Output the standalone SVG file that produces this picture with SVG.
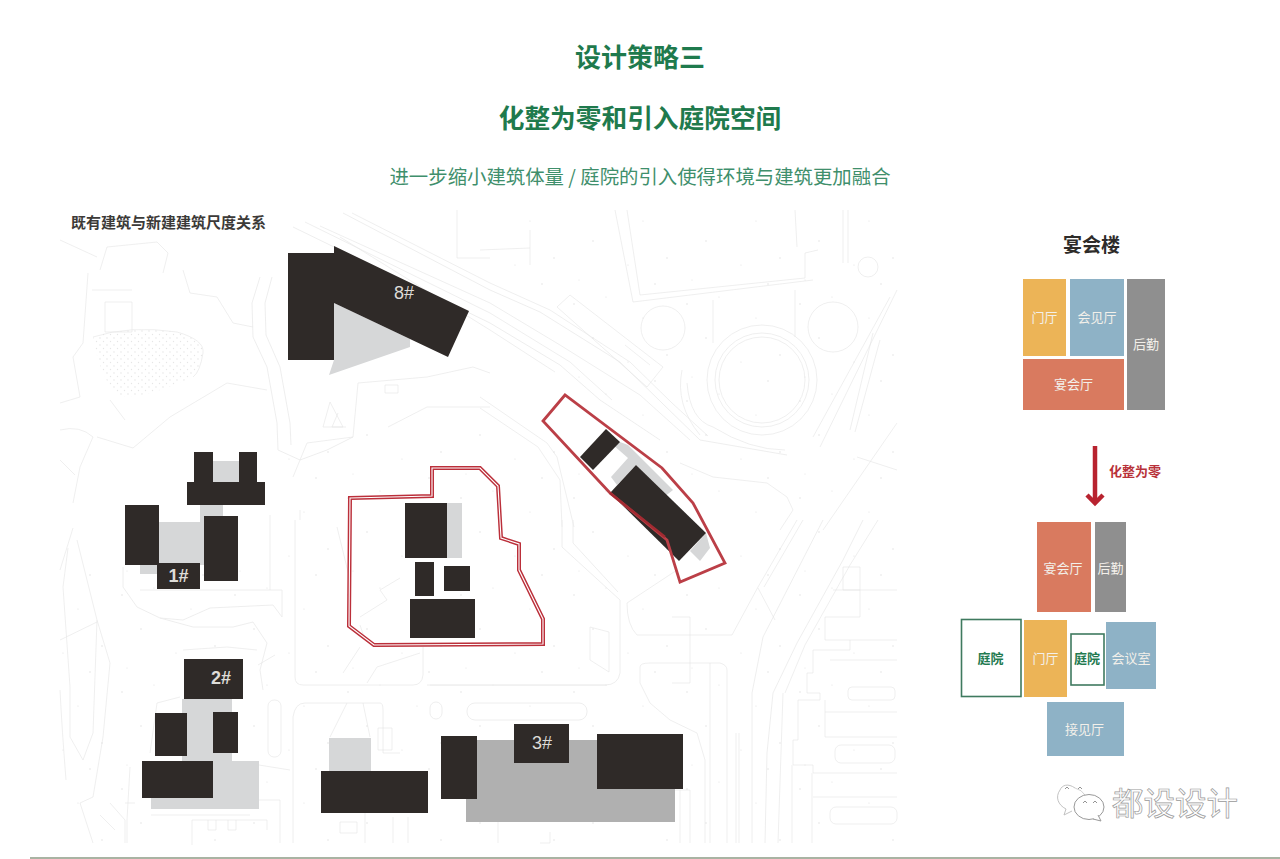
<svg xmlns="http://www.w3.org/2000/svg" width="1280" height="859" viewBox="0 0 1280 859">
<style>
.cjk{font-family:"Noto Sans CJK SC","Noto Sans",sans-serif}
.g{fill:#1f7a4d;font-weight:700;text-anchor:middle}
.d{fill:#2f2a28}
.l{fill:#d6d7d8}
.m{fill:#b0b0b0}
.bg{fill:none;stroke:#e4e4e4;stroke-width:.6}
.bg2{fill:none;stroke:#ececec;stroke-width:.9}
.num{font-family:"Liberation Sans",Arial,sans-serif;fill:#dedcd8;text-anchor:middle}
.red1{fill:none;stroke:#bb2f3a;stroke-width:4}
.red2{fill:none;stroke:#fff;stroke-width:1.1}
.w{fill:#f3f0ea;font-size:13px;text-anchor:middle}
.c{fill:#fff;stroke:#3f7a5f;stroke-width:1.6}
.cl{fill:#237a50;font-size:13px;font-weight:700;text-anchor:middle}
</style>
<defs>
<pattern id="dots" width="113" height="97" patternUnits="userSpaceOnUse">
<circle cx="9" cy="13" r=".7" fill="#dcdcdc"/><circle cx="41" cy="6" r=".6" fill="#e0e0e0"/><circle cx="28" cy="47" r=".7" fill="#dcdcdc"/><circle cx="78" cy="27" r=".6" fill="#e0e0e0"/><circle cx="102" cy="64" r=".7" fill="#dedede"/><circle cx="63" cy="71" r=".6" fill="#e0e0e0"/><circle cx="14" cy="86" r=".6" fill="#e2e2e2"/><circle cx="90" cy="90" r=".7" fill="#dedede"/>
</pattern>
<pattern id="fine" width="7" height="7" patternUnits="userSpaceOnUse"><circle cx="2" cy="2" r=".7" fill="#e2e2e2"/><circle cx="5.500" cy="5.500" r=".7" fill="#e6e6e6"/></pattern>
</defs>
<rect width="1280" height="859" fill="#fff"/>
<g id="titles" class="cjk">
<text class="g" x="640" y="67" font-size="26">设计策略三</text>
<text class="g" x="640" y="128" font-size="25.700">化整为零和引入庭院空间</text>
<text x="640" y="184" font-size="19.400" fill="#3f8f6c" text-anchor="middle">进一步缩小建筑体量 / 庭院的引入使得环境与建筑更加融合</text>
<text x="71" y="228" font-size="15" font-weight="700" fill="#3c3a38">既有建筑与新建建筑尺度关系</text>
</g>
<g id="site-linework">
<path fill="url(#dots)" d="M280 420H897V845H60V560H280Z"/>
<path fill="url(#dots)" d="M470 215H897V420H600Z"/>
<path fill="url(#fine)" d="M93 337Q130 325 177 332Q205 340 203 353Q200 372 193 377Q175 385 160 390Q135 398 120 397Q100 380 93 337Z"/>
<path class="bg" d="M93 337Q130 325 177 332Q205 340 203 353Q200 372 193 377"/>
<!-- north west -->
<path class="bg2" d="M260 277L252 303L253 337L267 367L277 423L278 450L300 460L327 450L353 437M272 277L265 303L266 335L280 367L290 423L291 445"/>
<path class="bg" d="M100 270L107 247L157 242L168 253L163 273M92 290H132M105 302H132V332H105ZM183 270L190 293L217 297L233 323L253 327M88 273L83 343L73 357L80 397L60 403M93 437L80 467L73 503M97 437L133 448L170 417L227 383L267 390M60 240L97 257M60 430Q80 425 93 437M60 460L75 475M110 400L125 420"/>
<path class="bg" d="M330 402L323 427H343ZM338 413L332 427H346M293 477L307 443L353 437M358 383L427 377L473 367L490 373M358 383L353 437M388 427L427 407H490M457 210V258H490M385 393H398V385H385Z"/>
<!-- rails and roads -->
<path class="bg2" d="M343 213L490 290L540 312L620 362L662 403L700 440L787 455M293 227L490 323L560 365L600 400L660 440"/>
<path class="bg" d="M352 213L490 283L550 310L630 362L672 403L708 436M305 222L490 313L570 362L612 400M320 226L490 303L560 345L640 395L690 440M340 237L490 330L555 372M480 397L547 443L557 457L574 527M480 408L538 447L560 480L562 527"/>
<path class="bg" d="M557 307L570 295L663 367L647 387ZM625 345L650 365M480 250L530 248M530 230V265"/>
<path class="bg" d="M615 210L633 302L813 280M627 210L640 295L805 278V253L818 250M795 210L797 247M843 210V263M848 210V263M795 290V337M713 300V343"/>
<circle class="bg" cx="663" cy="328" r="22"/><circle class="bg" cx="833" cy="327" r="25"/><circle class="bg" cx="868" cy="267" r="10"/>
<circle class="bg" cx="762" cy="380" r="43"/><circle class="bg" cx="762" cy="380" r="47"/><circle class="bg" cx="762" cy="380" r="55"/>
<path class="bg" d="M687 383Q690 420 713 427Q750 450 785 450M682 370Q675 405 700 435M897 290L820 447M890 297L813 437M873 333L850 430M880 340L855 432M897 423L823 530M857 457L897 470M680 463L713 477L767 483L787 497L793 510L780 530"/>
<!-- east -->
<path class="bg2" d="M823 520L763 637L752 693V843M863 520L843 560L797 643L773 693L767 753L765 843"/>
<path class="bg" d="M797 520L758 587L732 635H637Q627 625 627 603L677 570M803 520L764 587M758 588L775 620M783 693L778 843M878 520L850 565L805 645L785 693"/>
<path class="bg" d="M843 567H860V590H843ZM833 590H860V617H825V640H860M813 650H850V640M813 650V673H807V693H820V700H798V740H793V765H813V773H897M825 737H897M825 712H897M825 700V737M792 765V843M812 773V843M813 797H897M860 590H897M860 640H897M830 660H897"/>
<rect class="bg" x="848" y="687" width="47" height="13" rx="4"/><rect class="bg" x="835" y="745" width="60" height="18" rx="6"/><rect class="bg" x="830" y="807" width="67" height="17" rx="6"/>
<path class="bg2" d="M562 520V547L620 600V673Q618 685 605 685H430M573 520V543L618 592"/>
<path class="bg" d="M590 627L609 632V672L590 660ZM672 617H690V683H672M640 667Q640 663 650 663H720Q727 665 727 670V843M640 667V683L650 703L670 720L697 733L705 760V843M710 663V843M736 733V843M739 733V843"/>
<rect class="bg2" x="467" y="703" width="120" height="17" rx="8"/><rect class="bg2" x="430" y="702" width="12" height="17" rx="6"/>
<path class="bg" d="M680 790V843M690 790V843M675 790H690M498 810V843M550 832V843H540M470 810H550"/>
<!-- west / south -->
<path class="bg" d="M77 540L97 620L110 663L103 737L93 797L80 803L93 843M68 548L63 587L70 687L70 737L83 760L93 733L97 620M73 528L60 570M60 640L97 622M60 690Q62 730 66 780M110 803L125 820V843M135 803H125M150 753L157 703L180 697M130 767L127 820V843M100 815L115 830"/>
<path class="bg2" d="M123 567V587L137 607L160 618L183 620L210 608L273 605L282 617V590H140M160 618L193 627L233 627L253 622L267 643L260 670L263 690"/>
<path class="bg" d="M183 650L227 647L257 650M275 655L258 665"/>
<rect class="bg" x="268" y="700" width="13" height="57" rx="6"/>
<path class="bg" d="M192 845V820H267V830M208 820V830H216V820M228 820V830H236V820M250 800H280V843M259 765L290 770M151 815H250"/>
<path class="bg2" d="M295 520V677Q295 685 303 685H413Q422 685 423 675V647M427 685H607M293 843V717Q295 703 305 703H380Q383 703 383 710V753"/>
<path class="bg" d="M347 703L330 737M363 703L370 737M393 817V843M408 817V843M340 822H357V833H340ZM365 813V843M378 728H392V750H378ZM383 753H400"/>
<path class="bg" d="M360 617L387 600L380 590L400 578M343 673L360 647M367 683L377 667L420 653M337 527L350 580M360 625L365 640M300 510V520M270 515V590"/>
</g>
<g id="building-8">
<path class="l" d="M334 303L410 339V347L329 375L334 360Z"/>
<path class="d" d="M288 253H334L334 246L469 311L448 357L334 303V360H288Z"/>
<text class="num" x="404" y="299" font-size="18">8#</text>
</g>
<g id="building-1">
<rect class="l" x="213" y="461" width="26" height="21"/>
<rect class="l" x="200" y="505" width="23" height="17"/>
<rect class="l" x="159" y="522" width="45" height="43"/>
<rect class="l" x="140" y="565" width="17" height="9"/>
<path class="d" d="M194 452H213V482H239V452H257V482H265V505H187V482H194Z"/>
<rect class="d" x="125" y="505" width="34" height="60"/>
<rect class="d" x="204" y="516" width="34" height="65"/>
<rect class="d" x="157" y="563" width="43" height="26"/>
<text class="num" x="178.500" y="582" font-size="18" font-weight="700">1#</text>
</g>
<g id="building-2">
<rect class="l" x="182" y="699" width="50" height="64"/>
<path class="l" d="M213 761H259V809H151V798H213Z"/>
<rect class="d" x="184" y="659" width="59" height="40"/>
<rect class="d" x="155" y="713" width="32" height="43"/>
<rect class="d" x="213" y="712" width="25" height="41"/>
<rect class="d" x="142" y="761" width="71" height="37"/>
<text class="num" x="221" y="684" font-size="18" font-weight="700">2#</text>
</g>
<g id="building-3">
<path class="m" d="M477 740H597V789H675V822H466V799H477Z"/>
<rect class="l" x="329" y="738" width="42" height="33"/>
<rect class="d" x="321" y="771" width="107" height="42"/>
<rect class="d" x="441" y="736" width="36" height="63"/>
<rect class="d" x="514" y="724" width="55" height="39"/>
<rect class="d" x="597" y="734" width="86" height="55"/>
<text class="num" x="542" y="749" font-size="18">3#</text>
</g>
<g id="site-center">
<rect class="l" x="447" y="503" width="15" height="55"/>
<rect class="d" x="405" y="503" width="42" height="55"/>
<rect class="d" x="415" y="562" width="19" height="34"/>
<rect class="d" x="444" y="566" width="26" height="25"/>
<rect class="d" x="410" y="599" width="65" height="39"/>
<path class="red1" d="M350 498L432 496V468H480L498 486L501 538L519 544V570L543 619V644L374 645L349 626Z"/>
<path class="red2" d="M350 498L432 496V468H480L498 486L501 538L519 544V570L543 619V644L374 645L349 626Z"/>
</g>
<g id="site-east">
<path fill="#fff" d="M565 395L543 421L610 493L667 540L680 582L725 563L693 503L662 468Z"/>
<path class="l" d="M620 442L628 445L673 490L664 497L636 465L617 485L611 477L628 458L612 444Z"/>
<path class="l" d="M706 533L710 548L700 561L690 551Z"/>
<path class="d" d="M606 429L620 442L593 470L580 457Z"/>
<path class="d" d="M636 465L706 533L679 561L610 493Z"/>
<path fill="none" stroke="#bb3f47" stroke-width="2.800" d="M565 395L543 421L610 493L667 540L680 582L725 563L693 503L662 468Z"/>
<path fill="none" stroke="#a32a31" stroke-width="2.400" d="M610 493L665 537"/>
</g>
<g id="legend-top" class="cjk">
<text x="1091.500" y="252" font-size="19" font-weight="700" fill="#2e2c2a" text-anchor="middle">宴会楼</text>
<g id="n-door"><rect x="1023" y="279" width="43" height="77" fill="#ecb457"/><text class="w" x="1044.500" y="322">门厅</text></g>
<g id="n-meet"><rect x="1070" y="279" width="54" height="77" fill="#8eb2c6"/><text class="w" x="1097" y="322">会见厅</text></g>
<g id="n-back"><rect x="1127" y="279" width="38" height="131" fill="#8f8f8f"/><text class="w" x="1146" y="349">后勤</text></g>
<g id="n-banquet"><rect x="1023" y="359" width="101" height="51" fill="#d97a5f"/><text class="w" x="1073.500" y="389">宴会厅</text></g>
</g>
<g id="connectors">
<path d="M1095 446V503" stroke="#b8232f" stroke-width="4.500" fill="none"/>
<path d="M1087 495L1095 503L1103 495" stroke="#b8232f" stroke-width="4.500" fill="none"/>
<text class="cjk" x="1109" y="476" font-size="13" font-weight="700" fill="#b8323a">化整为零</text>
</g>
<g id="legend-bottom" class="cjk">
<g id="n-banquet2"><rect x="1037" y="522" width="54" height="90" fill="#d97a5f"/><text class="w" x="1063" y="573">宴会厅</text></g>
<g id="n-back2"><rect x="1095" y="522" width="31" height="90" fill="#8f8f8f"/><text class="w" x="1110.500" y="573">后勤</text></g>
<g id="n-court1"><rect class="c" x="961.500" y="619.500" width="59.500" height="77"/><text class="cl" x="990.500" y="663">庭院</text></g>
<g id="n-door2"><rect x="1024" y="620" width="43" height="77" fill="#ecb457"/><text class="w" x="1045.500" y="663">门厅</text></g>
<g id="n-court2"><rect class="c" x="1071" y="634" width="33" height="51"/><text class="cl" x="1087" y="663">庭院</text></g>
<g id="n-room"><rect x="1106" y="622" width="50" height="67" fill="#8eb2c6"/><text class="w" x="1131" y="663">会议室</text></g>
<g id="n-reception"><rect x="1047" y="702" width="77" height="54" fill="#8eb2c6"/><text class="w" x="1084.500" y="734">接见厅</text></g>
</g>
<g id="watermark">
<path d="M1075 788C1068 783 1062 785 1060 790C1055 797 1058 805 1066 809L1064 815L1072 811" fill="#fff" stroke="#bbb" stroke-width=".9"/>
<path d="M1075 788Q1082 790 1085 795" fill="none" stroke="#ccc" stroke-width=".9"/>
<ellipse cx="1089" cy="807" rx="15" ry="12.500" fill="#fff" stroke="#999" stroke-width="1"/>
<path d="M1093 819L1101 821L1098 815" fill="#fff" stroke="#999" stroke-width="1"/>
<path d="M1083 803l2-2 2 2M1093 803l2-2 2 2M1065 789l2-2 2 2M1078 789l2-2 2 2" fill="none" stroke="#888" stroke-width=".9"/>
<text class="cjk" x="1112" y="815" font-size="31.500" fill="#fdfdfd" stroke="#999" stroke-width=".7">都设设计</text>
</g>
<rect id="rule" x="30" y="857" width="1250" height="2" fill="#a9b3a3"/>
</svg>
